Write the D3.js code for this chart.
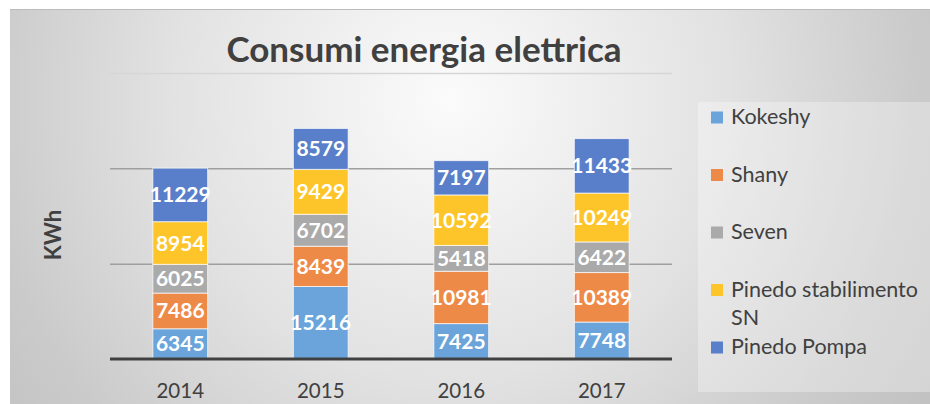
<!DOCTYPE html>
<html>
<head>
<meta charset="utf-8">
<script src="https://cdn.jsdelivr.net/npm/d3@7"></script>
<style>
	body { margin: 0; background: #fff; }
	svg { display: block; font-family: Lato, "Open Sans", sans-serif; }
</style>
</head>
<body>
<svg id="container"></svg>
<script>
// chart data
const years = ["2014", "2015", "2016", "2017"];
const seriesNames = ["Kokeshy", "Shany", "Seven", "Pinedo stabilimento SN", "Pinedo Pompa"];
const kokeshy = [6345, 15216, 7425, 7748];
const shany = [7486, 8439, 10981, 10389];
const seven = [6025, 6702, 5418, 6422];
const pinedoStab = [8954, 9429, 10592, 10249];
const pinedoPompa = [11229, 8579, 7197, 11433];
const seriesColors = ["#6aa4db", "#ee8a48", "#aaaaaa", "#fec52a", "#5a7fca"];
const gridTicks = [20000, 40000, 60000];

function drawChart() {
	const W = 930, H = 404;
	const margin = { top: 73, right: 258, bottom: 45, left: 110 };

	var svg = d3.select("#container")
		.attr("width", W)
		.attr("height", H);

	// background gradient
	var defs = svg.append("defs");
	var grad = defs.append("radialGradient")
		.attr("id", "bg")
		.attr("gradientUnits", "userSpaceOnUse")
		.attr("cx", 450).attr("cy", 100).attr("r", 620);
	grad.append("stop").attr("offset", 0).attr("stop-color", "#fbfbfb");
	grad.append("stop").attr("offset", 0.45).attr("stop-color", "#e2e2e2");
	grad.append("stop").attr("offset", 0.75).attr("stop-color", "#cbcbcb");
	grad.append("stop").attr("offset", 1).attr("stop-color", "#bdbdbd");

	svg.append("rect")
		.attr("x", 10).attr("y", 9)
		.attr("width", W - 10).attr("height", H - 9)
		.attr("fill", "url(#bg)");
	svg.append("line")
		.attr("x1", 10).attr("x2", W).attr("y1", 9.5).attr("y2", 9.5)
		.attr("stroke", "#bbbbbb").attr("stroke-width", 1);

	// build table for stack
	const table = years.map((y, i) => ({
		year: y,
		"Kokeshy": kokeshy[i],
		"Shany": shany[i],
		"Seven": seven[i],
		"Pinedo stabilimento SN": pinedoStab[i],
		"Pinedo Pompa": pinedoPompa[i]
	}));
	const stacked = d3.stack().keys(seriesNames)(table);

	// scales
	var x = d3.scaleBand()
		.domain(years)
		.range([margin.left, W - margin.right])
		.paddingInner(0.61)
		.paddingOuter(0.305);

	var y = d3.scaleLinear()
		.domain([0, 60000])
		.range([359, margin.top]);

	var color = d3.scaleOrdinal().domain(seriesNames).range(seriesColors);

	// gridlines
	var grid = svg.append("g")
		.attr("transform", "translate(" + margin.left + ",0)")
		.call(d3.axisLeft(y).tickValues(gridTicks).tickSize(-(x.range()[1] - x.range()[0])).tickFormat(""));
	grid.select(".domain").remove();
	grid.selectAll(".tick line")
		.attr("stroke", d => d === 60000 ? "#d6d6d6" : "#9f9f9f")
		.attr("stroke-width", 1.5);

	// title
	svg.append("text")
		.attr("x", 424)
		.attr("y", 62)
		.attr("text-anchor", "middle")
		.attr("font-size", 35)
		.attr("font-weight", "bold")
		.attr("fill", "#404040")
		.text("Consumi energia elettrica");

	// y axis title
	svg.append("text")
		.attr("transform", "translate(61,235) rotate(-90)")
		.attr("text-anchor", "middle")
		.attr("font-size", 22)
		.attr("font-weight", "bold")
		.attr("fill", "#404040")
		.text("KWh");

	// bars
	var layers = svg.append("g").selectAll("g.layer")
		.data(stacked)
		.enter()
		.append("g")
		.attr("class", "layer")
		.attr("fill", d => color(d.key));

	layers.selectAll("rect")
		.data(d => d)
		.enter()
		.append("rect")
		.attr("x", d => x(d.data.year))
		.attr("y", d => y(d[1]))
		.attr("width", x.bandwidth())
		.attr("height", d => y(d[0]) - y(d[1]))
		.attr("stroke", "#ffffff")
		.attr("stroke-opacity", 0.7)
		.attr("stroke-width", 1);

	// data labels
	layers.selectAll("text")
		.data(d => d)
		.enter()
		.append("text")
		.attr("x", d => x(d.data.year) + x.bandwidth() / 2)
		.attr("y", d => (y(d[0]) + y(d[1])) / 2)
		.attr("dy", "0.36em")
		.attr("text-anchor", "middle")
		.attr("font-size", 21)
		.attr("font-weight", "bold")
		.attr("fill", "#ffffff")
		.text(d => d[1] - d[0]);

	// x axis
	svg.append("line")
		.attr("x1", x.range()[0]).attr("x2", x.range()[1])
		.attr("y1", 359).attr("y2", 359)
		.attr("stroke", "#404040").attr("stroke-width", 3);

	var gX = svg.append("g")
		.attr("transform", "translate(0,359)")
		.call(d3.axisBottom(x).tickSize(0));
	gX.select(".domain").remove();
	gX.selectAll(".tick text")
		.attr("y", 39)
		.attr("dy", null)
		.attr("font-family", "Lato, sans-serif")
		.attr("font-size", 20.5)
		.attr("fill", "#404040");

	// legend
	svg.append("rect")
		.attr("x", 698).attr("y", 102)
		.attr("width", W - 698).attr("height", 290)
		.attr("fill", "#ffffff").attr("fill-opacity", 0.3);

	var legend = svg.append("g");
	var rowY = 124;
	seriesNames.forEach((name, i) => {
		var item = legend.append("g");
		item.append("rect")
			.attr("x", 711).attr("y", rowY - 12.5)
			.attr("width", 12).attr("height", 12)
			.attr("fill", color(name));
		var t = item.append("text")
			.attr("x", 731).attr("y", rowY)
			.attr("font-size", 21.5)
			.attr("fill", "#404040")
			.text(name);
		wrap(t, 197);
		rowY += 57.5;
	});
}

// wrap legend text, returns line count
function wrap(text, width) {
	var words = text.text().split(/\s+/).reverse(),
		word, line = [], lineNumber = 0,
		xPos = text.attr("x"), yPos = +text.attr("y"),
		tspan = text.text(null).append("tspan").attr("x", xPos).attr("y", yPos);
	while (word = words.pop()) {
		line.push(word);
		tspan.text(line.join(" "));
		if (tspan.node().getComputedTextLength() > width && line.length > 1) {
			line.pop();
			tspan.text(line.join(" "));
			line = [word];
			tspan = text.append("tspan").attr("x", xPos).attr("y", yPos + (++lineNumber) * 28.5).text(word);
		}
	}
	return lineNumber + 1;
}

drawChart();
</script>
</body>
</html>
